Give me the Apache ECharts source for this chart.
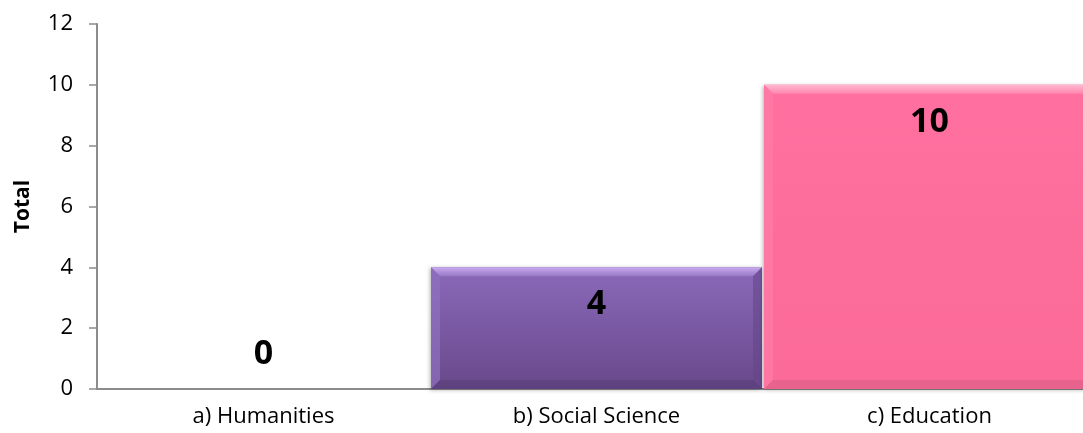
<!DOCTYPE html>
<html>
<head>
<meta charset="utf-8">
<script src="https://cdn.jsdelivr.net/npm/echarts@6/dist/echarts.min.js"></script>
<style>
  html, body { margin: 0; padding: 0; background: #fff; }
  #chart { width: 1083px; height: 433px; }
</style>
</head>
<body>
<div id="chart"></div>
<script>
// Totals per discipline
const categories = ['a) Humanities', 'b) Social Science', 'c) Education'];
const totals = [0, 4, 10];
const yTicks = [0, 2, 4, 6, 8, 10, 12];

// Bevelled bar palettes: [face top, face bottom, top edge light, top edge dark, side light, side dark, bottom edge]
const palettes = [
  ['#8a69ba', '#69498b', '#c9aaee', '#9678c6', '#8f70bf', '#654689', '#5a3e7a'],
  ['#8a69ba', '#69498b', '#c9aaee', '#9678c6', '#8f70bf', '#654689', '#5a3e7a'],
  ['#ff70a0', '#fb6a98', '#ffb8d2', '#ff86ad', '#ff7ca7', '#ef6692', '#e05f8a']
];

const FONT = '"Open Sans", "Noto Sans", sans-serif';
const chart = echarts.init(document.getElementById('chart'), null, { renderer: 'canvas' });

function vgrad(a, b) {
  return new echarts.graphic.LinearGradient(0, 0, 0, 1, [
    { offset: 0, color: a }, { offset: 1, color: b }
  ]);
}

function renderBar(params, api) {
  const idx = api.value(0);
  const val = api.value(1);
  const topPt = api.coord([idx, val]);
  const basePt = api.coord([idx, 0]);
  const w = api.size([1, 0])[0];
  const l = topPt[0] - w / 2 + 1;
  const r = topPt[0] + w / 2 - 1;
  const t = topPt[1];
  const bot = basePt[1];
  const h = bot - t;
  const pal = palettes[idx];
  const children = [];
  const label = {
    type: 'text',
    z2: 10,
    style: {
      text: String(val),
      x: topPt[0],
      y: h > 0 ? t + 37 : bot - 35,
      align: 'center',
      verticalAlign: 'middle',
      fontFamily: FONT,
      fontWeight: 'bold',
      fontSize: 34,
      fill: '#000'
    }
  };
  if (h > 0) {
    const b = Math.min(9, h / 2);
    children.push({
      type: 'rect',
      shape: { x: l, y: t, width: r - l, height: h },
      style: { fill: vgrad(pal[0], pal[1]), shadowBlur: 4, shadowColor: 'rgba(0,0,0,0.3)', shadowOffsetX: -1, shadowOffsetY: 1 }
    });
    children.push({
      type: 'polygon',
      shape: { points: [[l, t], [r, t], [r - b, t + b], [l + b, t + b]] },
      style: { fill: vgrad(pal[2], pal[3]) }
    });
    children.push({
      type: 'polygon',
      shape: { points: [[l, t], [l + b, t + b], [l + b, bot - b], [l, bot]] },
      style: { fill: pal[4], opacity: 0.7 }
    });
    children.push({
      type: 'polygon',
      shape: { points: [[r, t], [r, bot], [r - b, bot - b], [r - b, t + b]] },
      style: { fill: pal[5], opacity: 0.6 }
    });
    children.push({
      type: 'polygon',
      shape: { points: [[l, bot], [r, bot], [r - b, bot - b], [l + b, bot - b]] },
      style: { fill: pal[6], opacity: 0.7 }
    });
  }
  children.push(label);
  return { type: 'group', children: children };
}

chart.setOption({
  animation: false,
  grid: { left: 97, right: -13, top: 24, bottom: 44, containLabel: false, outerBoundsMode: 'none' },
  xAxis: {
    type: 'category',
    data: categories,
    axisLine: { show: true, lineStyle: { color: '#8c8c8c', width: 2 } },
    axisTick: { show: false },
    axisLabel: { color: '#000', fontFamily: FONT, fontSize: 22, margin: 17 },
    splitLine: { show: false }
  },
  yAxis: {
    type: 'value',
    min: yTicks[0],
    max: yTicks[yTicks.length - 1],
    interval: yTicks[1] - yTicks[0],
    name: 'Total',
    nameLocation: 'middle',
    nameGap: 63,
    nameRotate: 90,
    nameTextStyle: { color: '#000', fontFamily: FONT, fontWeight: 'bold', fontSize: 21 },
    axisLine: { show: true, lineStyle: { color: '#8c8c8c', width: 2 } },
    axisTick: { show: true, inside: false, length: 8, lineStyle: { color: '#8c8c8c', width: 1.5 } },
    axisLabel: { color: '#000', fontFamily: FONT, fontSize: 22, margin: 24 },
    splitLine: { show: false }
  },
  series: [{
    type: 'custom',
    renderItem: renderBar,
    clip: false,
    encode: { x: 0, y: 1 },
    data: totals.map((v, i) => [i, v])
  }]
});
</script>
</body>
</html>
